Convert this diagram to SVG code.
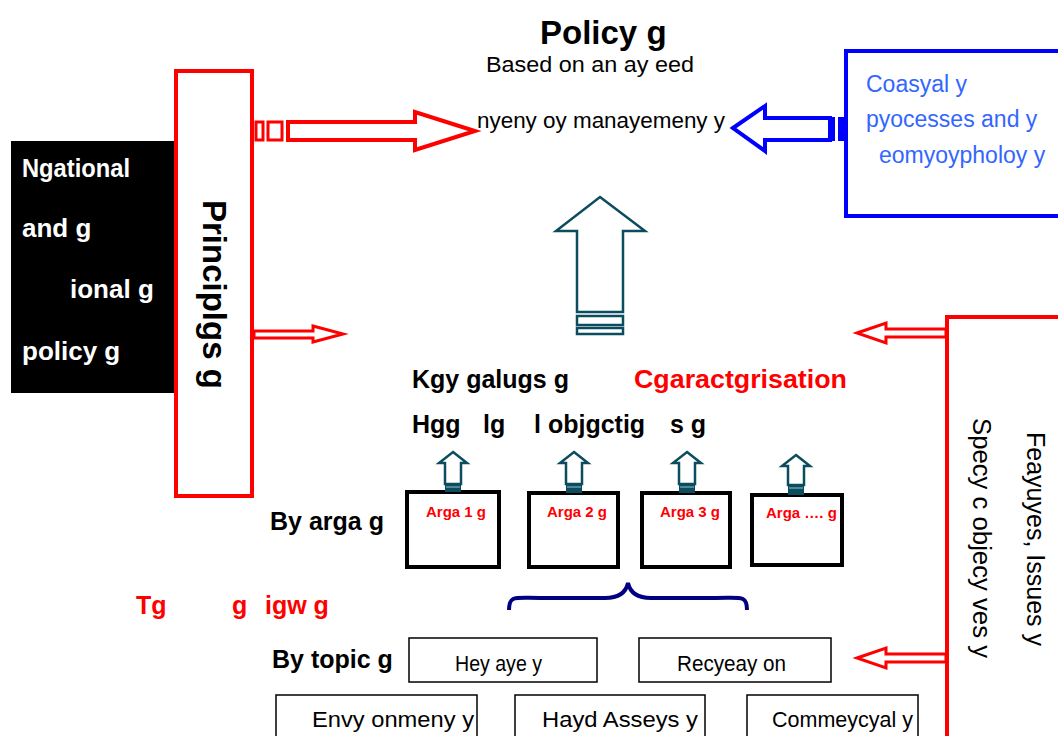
<svg xmlns="http://www.w3.org/2000/svg" width="1058" height="736" viewBox="0 0 1058 736">
<style>
text{font-family:"Liberation Sans",Arial,sans-serif}
.b{font-weight:bold}
.red{fill:#ff0000}
.wt{fill:#ffffff}
.blu{fill:#3366ff}
.rs{fill:none;stroke:#ff0000;stroke-width:4}
.ra{fill:#ffffff;stroke:#ff0000;stroke-width:3}
.ta{fill:#ffffff;stroke:#0b4d5e;stroke-width:2.5}
.tf{fill:#0b4d5e}
.ab{fill:#ffffff;stroke:#000000;stroke-width:4}
.tb{fill:#ffffff;stroke:#000000;stroke-width:1.5}
</style>
<rect width="1058" height="736" fill="#ffffff"/>

<g id="title">
<text x="540" y="44" font-size="33" class="b">Policy g</text>
<text x="486" y="72" font-size="22" textLength="208" lengthAdjust="spacingAndGlyphs">Based on an ay  eed</text>
</g>

<g id="management">
<text x="477" y="128" font-size="22" textLength="248" lengthAdjust="spacingAndGlyphs">nyeny oy manayemeny y</text>
</g>

<g id="national">
<rect x="11" y="141" width="166" height="252" fill="#000000"/>
<text x="22" y="177" font-size="26" class="b wt" textLength="108" lengthAdjust="spacingAndGlyphs">Ngational</text>
<text x="22" y="237" font-size="26" class="b wt">and g</text>
<text x="70" y="298" font-size="26" class="b wt">ional g</text>
<text x="22" y="360" font-size="26" class="b wt">policy g</text>
</g>

<g id="principles">
<rect x="176" y="71" width="76" height="425" class="rs" fill="#ffffff"/>
<text transform="translate(203,200) rotate(90)" font-size="33" class="b">Principlgs g</text>
</g>

<g id="coastal">
<rect x="846" y="51" width="230" height="165" fill="#ffffff" stroke="#0000ff" stroke-width="4"/>
<text x="866" y="92" font-size="23" class="blu">Coasyal y</text>
<text x="866" y="127" font-size="23" class="blu">pyocesses and y</text>
<text x="879" y="163" font-size="23" class="blu">eomyoypholoy  y</text>
</g>

<g id="features">
<rect x="947" y="317" width="130" height="440" class="rs" fill="#ffffff"/>
<text transform="translate(1027,432) rotate(90)" font-size="25">Feayuyes, Issues y</text>
<text transform="translate(973,418) rotate(90)" font-size="25" textLength="240" lengthAdjust="spacingAndGlyphs">Specy  c objecy ves y</text>
</g>

<g id="values">
<text x="412" y="388" font-size="25" class="b">Kgy galugs g</text>
<text x="634" y="388" font-size="26" class="b red" textLength="213" lengthAdjust="spacingAndGlyphs">Cgaractgrisation</text>
<text x="412" y="433" font-size="25" class="b">Hgg<tspan x="483">lg</tspan><tspan x="534">l objgctig</tspan><tspan x="670">s g</tspan></text>
</g>

<g id="byarea">
<text x="270" y="530" font-size="25" class="b">By arga g</text>
</g>

<g id="area1">
<rect x="407" y="492" width="92" height="75" class="ab"/>
<text x="426" y="517" font-size="15" class="b red">Arga 1 g</text>
</g>
<g id="area2">
<rect x="529" y="493" width="89" height="74" class="ab"/>
<text x="547" y="517" font-size="15" class="b red">Arga 2 g</text>
</g>
<g id="area3">
<rect x="642" y="493" width="88" height="74" class="ab"/>
<text x="660" y="517" font-size="15" class="b red">Arga 3 g</text>
</g>
<g id="area4">
<rect x="752" y="495" width="90" height="70" class="ab"/>
<text x="766" y="518" font-size="15" class="b red">Arga …. g</text>
</g>

<g id="thematic">
<text x="136" y="614" font-size="25" class="b red">Tg<tspan x="232">g</tspan><tspan x="265">igw g</tspan></text>
</g>

<g id="bytopic">
<text x="272" y="668" font-size="25" class="b">By topic g</text>
</g>

<g id="heritage">
<rect x="409" y="638" width="188" height="44" class="tb"/>
<text x="455" y="671" font-size="22" textLength="87" lengthAdjust="spacingAndGlyphs">Hey  aye y</text>
</g>
<g id="recreation">
<rect x="639" y="638" width="192" height="44" class="tb"/>
<text x="677" y="671" font-size="22" textLength="109" lengthAdjust="spacingAndGlyphs">Recyeay on</text>
</g>
<g id="environment">
<rect x="276" y="695" width="201" height="50" class="tb"/>
<text x="312" y="727" font-size="22" textLength="162" lengthAdjust="spacingAndGlyphs">Envy onmeny y</text>
</g>
<g id="hazards">
<rect x="515" y="695" width="190" height="50" class="tb"/>
<text x="542" y="727" font-size="22" textLength="156" lengthAdjust="spacingAndGlyphs">Hayd Asseys y</text>
</g>
<g id="commercial">
<rect x="747" y="695" width="171" height="50" class="tb"/>
<text x="772" y="727" font-size="22" textLength="141" lengthAdjust="spacingAndGlyphs">Commeycyal y</text>
</g>

<g id="connectors">
<polygon points="288,122 415,122 415,112 475,131 415,150 415,140 288,140" fill="#ffffff" stroke="#ff0000" stroke-width="4"/>
<rect x="256" y="122" width="7" height="18" fill="#ffffff" stroke="#ff0000" stroke-width="3"/>
<rect x="268" y="122" width="14" height="18" fill="#ffffff" stroke="#ff0000" stroke-width="3"/>
<polygon points="733,128 765,106 765,118 830,118 830,140 765,140 765,151" fill="#ffffff" stroke="#0000ff" stroke-width="4"/>
<rect x="829" y="117" width="6" height="24" fill="#0000ff"/>
<rect x="838" y="117" width="8" height="24" fill="#0000ff"/>
<polygon points="600,197 645,231 623,231 623,312 577,312 577,231 556,231" class="ta"/>
<rect x="577" y="316" width="46" height="9" class="ta"/>
<rect x="577" y="328" width="46" height="6" class="ta"/>
<g>
<polygon points="453,452 467,463 461,463 461,484 445,484 445,463 439,463" class="ta" stroke-width="1.8"/>
<rect x="445" y="483" width="16" height="9" class="tf"/>
<line x1="446" y1="487" x2="460" y2="487" stroke="#a0c0c8" stroke-width="1"/>
</g>
<g>
<polygon points="574,452 588,463 582,463 582,484 566,484 566,463 560,463" class="ta" stroke-width="1.8"/>
<rect x="566" y="483" width="16" height="10" class="tf"/>
<line x1="567" y1="487" x2="581" y2="487" stroke="#a0c0c8" stroke-width="1"/>
</g>
<g>
<polygon points="687,452 701,463 695,463 695,484 679,484 679,463 673,463" class="ta" stroke-width="1.8"/>
<rect x="679" y="483" width="16" height="10" class="tf"/>
<line x1="680" y1="487" x2="694" y2="487" stroke="#a0c0c8" stroke-width="1"/>
</g>
<g>
<polygon points="796,455 810,466 804,466 804,485 788,485 788,466 782,466" class="ta" stroke-width="1.8"/>
<rect x="788" y="484" width="16" height="11" class="tf"/>
<line x1="789" y1="488" x2="803" y2="488" stroke="#a0c0c8" stroke-width="1"/>
</g>
<polygon points="254,331 313,331 313,326 343,334 313,342 313,338 254,338" fill="#ffffff" stroke="#ff0000" stroke-width="3"/>
<polygon points="857,333 886,323 886,329 946,329 946,337 886,337 886,343" class="ra"/>
<polygon points="857,658 886,648 886,654 946,654 946,662 886,662 886,668" class="ra"/>
<path d="M509,610 C509,595 515,598 540,598 L605,598 C620,598 626,592 628,583 C630,592 636,598 651,598 L716,598 C741,598 747,595 747,610" fill="none" stroke="#000080" stroke-width="4"/>
</g>
</svg>
